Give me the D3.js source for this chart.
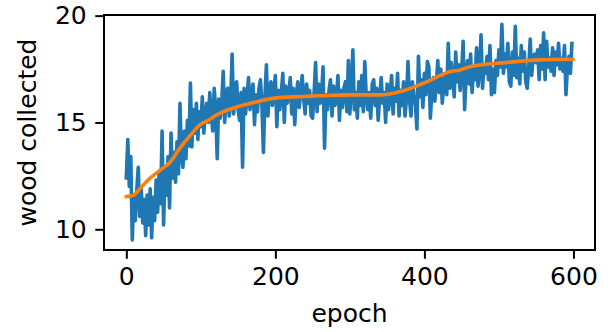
<!DOCTYPE html>
<html>
<head>
<meta charset="utf-8">
<script src="https://cdn.jsdelivr.net/npm/d3@7"></script>
<style>
  body { margin: 0; background: #fff; }
  svg { display: block; font-family: 'DejaVu Sans', sans-serif; }
</style>
</head>
<body>
<div id="chart"></div>
<script>
// raw wood collected, sampled every 2 epochs
const step = 2;
const wood = [
  12.4, 14.2, 12.0, 13.4, 9.5, 11.6, 10.4, 11.8, 12.9, 10.6, 11.9, 10.3, 11.4, 9.7, 11.6, 10.2, 11.9, 9.6, 11.5, 10.4, 12.3,
  10.8, 12.6, 11.2, 14.6, 10.2, 12.8, 11.6, 13.4, 11.0, 14.5, 12.4, 13.6, 12.2, 14.1, 12.6, 15.9, 13.4, 12.9, 14.6, 13.3,
  15.1, 13.9, 16.85, 13.85, 15.6, 14.5, 15.9, 14.2, 15.5, 14.8,
  16.2, 14.5, 15.4, 15.9, 15.0, 16.4, 15.3, 14.6, 16.6, 15.5, 13.3, 16.1, 15.2, 15.9, 17.4, 15.0, 16.3, 16.6, 15.3, 16.0,
  18.2, 15.4, 16.5, 16.9, 15.6,
  15.1, 16.4, 12.9, 16.6, 15.4, 16.2, 17.1, 15.6, 16.3, 16.8, 14.9, 16.3, 15.5, 16.6, 17.0, 15.8, 13.6, 16.2, 17.7, 15.3,
  16.4, 16.9, 15.8, 16.5, 17.2, 14.8, 16.5, 15.6, 16.4, 17.3, 15.0, 16.7, 15.9, 16.3, 17.1, 15.4, 16.6, 14.9, 16.2, 16.9,
  15.7, 16.4, 17.2, 16.1, 15.4, 16.8, 15.9, 16.5, 15.3, 15.2, 16.4, 17.8, 15.5, 16.8, 15.9, 16.3, 17.6, 13.8, 16.3, 15.6,
  16.5, 17.0, 15.3, 16.7, 15.8, 16.2, 17.2, 15.1, 16.5, 15.7, 16.6, 16.9, 15.5, 17.9, 15.4,
  16.6, 18.4, 15.6, 16.4, 15.2, 16.9, 15.8, 17.2, 15.5, 17.85, 16.2, 15.6, 16.4, 15.2, 16.8, 17.0, 15.8, 16.6, 15.1, 16.2,
  17.1, 15.9, 16.4, 15.0, 16.8, 15.6, 16.3, 17.2, 15.4, 16.6, 16.0, 17.3, 15.3, 16.5, 15.8, 16.9, 15.3, 16.1, 17.85, 16.1,
  15.3, 16.9, 16.3, 15.8, 14.7, 18.1, 16.2, 17.0, 15.7, 17.3,
  16.3, 17.85, 17.6, 15.2, 16.4, 17.1, 16.0, 16.8, 17.9, 16.4, 17.5, 15.9, 16.8, 17.2, 16.3, 18.7, 16.6, 17.8, 17.0, 16.2,
  18.3, 16.9, 17.7, 16.5, 17.4, 18.8, 15.6, 17.2, 17.9, 16.8, 18.2, 16.4, 17.6, 17.0, 18.5, 16.7, 17.4, 19.1, 16.6, 17.7,
  17.3, 18.1, 17.0, 18.6, 16.3, 17.5, 16.4, 17.9, 17.2, 18.4, 17.6, 19.6, 17.3, 18.2, 17.6, 18.7, 16.9, 16.7, 18.3, 17.2,
  19.5, 17.1, 18.0, 16.8, 18.6, 17.4, 18.3, 16.9, 16.6, 17.6, 18.9, 17.2, 18.1, 18.2, 17.8, 18.4, 17.0, 18.6, 17.5, 19.2,
  17.0, 18.8, 17.6, 18.0, 17.4, 18.5, 17.2, 18.3, 17.7, 18.7, 17.5, 18.0, 17.4, 18.6, 16.3, 17.6, 18.1, 17.3, 18.7
];

// smoothed curve
const smoothEpoch = [0, 10, 19, 32, 46, 59, 72, 86, 99, 110, 121, 148, 174, 201, 233, 260, 300, 341, 368, 399, 435, 448, 462, 502, 556, 599];
const smoothWood = [11.53, 11.6, 11.93, 12.4, 12.78, 13.15, 13.8, 14.4, 14.9, 15.1, 15.35, 15.72, 15.96, 16.15, 16.21, 16.25, 16.29, 16.29, 16.45, 16.84, 17.38, 17.46, 17.62, 17.78, 17.93, 17.96];

const xTicks = [0, 200, 400, 600];
const yTicks = [10, 15, 20];

const w = 611;
const h = 332;
const margin = { top: 15, right: 16, bottom: 82, left: 104 };
const fs = 25;

const svg = d3.select('#chart')
  .append('svg')
  .attr('width', w)
  .attr('height', h);

const x = d3.scaleLinear()
  .domain([-29.95, 628.95])
  .range([margin.left, w - margin.right]);

const y = d3.scaleLinear()
  .domain([9.03, 20.03])
  .range([h - margin.bottom, margin.top]);

// clip so lines stay inside the frame
svg.append('clipPath').attr('id', 'clip')
  .append('rect')
  .attr('x', margin.left).attr('y', margin.top)
  .attr('width', w - margin.left - margin.right)
  .attr('height', h - margin.top - margin.bottom);

const rawLine = d3.line()
  .x((d, i) => x(i * step))
  .y(d => y(d));

svg.append('path')
  .datum(wood)
  .attr('clip-path', 'url(#clip)')
  .attr('fill', 'none')
  .attr('stroke', '#1f77b4')
  .attr('stroke-width', 3.6)
  .attr('stroke-linejoin', 'round')
  .attr('stroke-linecap', 'square')
  .attr('d', rawLine);

const smoothLine = d3.line()
  .x((d, i) => x(smoothEpoch[i]))
  .y(d => y(d))
  .curve(d3.curveMonotoneX);

svg.append('path')
  .datum(smoothWood)
  .attr('clip-path', 'url(#clip)')
  .attr('fill', 'none')
  .attr('stroke', '#ff7f0e')
  .attr('stroke-width', 3.6)
  .attr('stroke-linejoin', 'round')
  .attr('stroke-linecap', 'square')
  .attr('d', smoothLine);

// axes
const xAxis = d3.axisBottom(x)
  .tickValues(xTicks)
  .tickSize(8.75)
  .tickPadding(8.5);

const yAxis = d3.axisLeft(y)
  .tickValues(yTicks)
  .tickSize(8.75)
  .tickPadding(8.5);

const gx = svg.append('g')
  .attr('transform', 'translate(0,' + (h - margin.bottom) + ')')
  .call(xAxis);

const gy = svg.append('g')
  .attr('transform', 'translate(' + margin.left + ',0)')
  .call(yAxis);

[gx, gy].forEach(g => {
  g.select('.domain').remove();
  g.selectAll('line').attr('stroke', '#000').attr('stroke-width', 2);
  g.selectAll('text')
    .attr('fill', '#000')
    .style('font-size', fs + 'px')
    .style('font-family', "'DejaVu Sans', sans-serif");
});

// frame
svg.append('rect')
  .attr('x', margin.left)
  .attr('y', margin.top)
  .attr('width', w - margin.left - margin.right)
  .attr('height', h - margin.top - margin.bottom)
  .attr('fill', 'none')
  .attr('stroke', '#000')
  .attr('stroke-width', 2);

// axis labels
svg.append('text')
  .attr('x', (margin.left + w - margin.right) / 2)
  .attr('y', 322)
  .attr('text-anchor', 'middle')
  .style('font-size', fs + 'px')
  .text('epoch');

svg.append('text')
  .attr('transform', 'translate(36,' + (margin.top + h - margin.bottom) / 2 + ') rotate(-90)')
  .attr('text-anchor', 'middle')
  .style('font-size', fs + 'px')
  .text('wood collected');
</script>
</body>
</html>
